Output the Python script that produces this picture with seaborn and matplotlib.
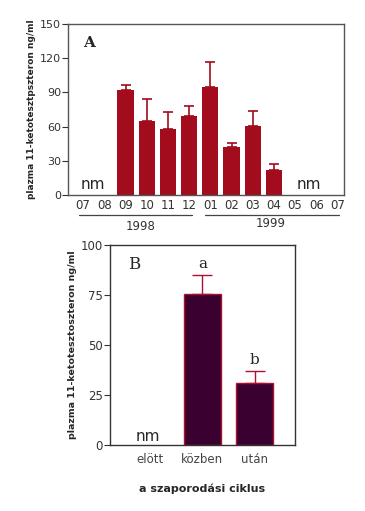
import numpy as np
import pandas as pd
import seaborn as sns
import matplotlib.pyplot as plt
import matplotlib.transforms as mtransforms

# panel A: monthly means (nm = not measured)
months = ["07", "08", "09", "10", "11", "12", "01", "02", "03", "04", "05", "06", "07"]
month_keys = ["98-07", "98-08", "98-09", "98-10", "98-11", "98-12",
              "99-01", "99-02", "99-03", "99-04", "99-05", "99-06", "99-07"]
means_a = [np.nan, np.nan, 92, 65, 58, 69, 95, 42, 61, 22, np.nan, np.nan, np.nan]
err_a = [0, 0, 5, 19, 15, 9, 22, 4, 13, 5, 0, 0, 0]
years = ["1998", "1999"]

# panel B: reproductive cycle
phases = ["elött", "közben", "után"]
means_b = [np.nan, 75.5, 31]
err_b = [0, 9.5, 6]
letters_b = ["", "a", "b"]

sns.set_style("ticks")
plt.rcParams["font.family"] = ["DejaVu Sans"]

fig = plt.figure(figsize=(3.65, 5.11), dpi=100)
ax1 = fig.add_axes([0.186, 0.618, 0.756, 0.335])
ax2 = fig.add_axes([0.301, 0.129, 0.507, 0.392])

red = "#a20c1c"
purple = "#3a0030"
grey = "#555555"

# ---- panel A
df_a = pd.DataFrame({"month": month_keys, "value": means_a})
sns.barplot(data=df_a, x="month", y="value", order=month_keys, color=red,
            saturation=1, width=0.76, linewidth=0, ax=ax1)
xa = np.arange(len(month_keys))
ya = np.array(means_a, dtype=float)
mask = ~np.isnan(ya)
# upper whisker only; the lower cap hides behind the bar
ax1.errorbar(xa[mask], ya[mask], yerr=[np.zeros(mask.sum()), np.array(err_a)[mask]],
             fmt="none", ecolor=red, elinewidth=1.2, capsize=3.5, capthick=1.2,
             zorder=0.5)
ax1.set_ylim(0, 150)
ax1.set_xlim(-0.72, 12.3)
ax1.set_yticks([0, 30, 60, 90, 120, 150])
ax1.set_xticks(xa)
ax1.set_xticklabels(months)
ax1.tick_params(axis="x", length=0, labelsize=8.5, colors="#333333", pad=3)
ax1.tick_params(axis="y", length=4, labelsize=8, colors="#333333", pad=1)
ax1.set_xlabel("")
ax1.set_ylabel("plazma 11-ketotesztpszteron ng/ml", fontsize=6.5, fontweight="bold",
               labelpad=3)
for s in ax1.spines.values():
    s.set_color(grey)
    s.set_linewidth(1.0)
ax1.text(0.055, 0.89, "A", transform=ax1.transAxes, fontsize=11, fontweight="bold",
         family="DejaVu Serif", ha="left", va="center")
ax1.text(0.45, 9, "nm", fontsize=11, ha="center", va="center")
ax1.text(10.65, 9, "nm", fontsize=11, ha="center", va="center")

trans = mtransforms.blended_transform_factory(ax1.transData, ax1.transAxes)
ax1.plot([-0.2, 5.15], [-0.118, -0.118], color="#444444", lw=0.9,
         transform=trans, clip_on=False)
ax1.plot([5.75, 12.05], [-0.118, -0.118], color="#444444", lw=0.9,
         transform=trans, clip_on=False)
ax1.text(2.7, -0.185, years[0], transform=trans, fontsize=8.5, ha="center",
         va="center", color="#333333")
ax1.text(8.85, -0.165, years[1], transform=trans, fontsize=8.5, ha="center",
         va="center", color="#333333")

# ---- panel B
df_b = pd.DataFrame({"phase": phases, "value": means_b})
sns.barplot(data=df_b, x="phase", y="value", order=phases, color=purple,
            saturation=1, width=0.7, edgecolor="#b01030", linewidth=1.0, ax=ax2)
xb = np.arange(len(phases))
yb = np.array(means_b, dtype=float)
mb = ~np.isnan(yb)
ax2.errorbar(xb[mb], yb[mb], yerr=[np.zeros(mb.sum()), np.array(err_b)[mb]],
             fmt="none", ecolor="#b01030", elinewidth=1.0, capsize=7, capthick=1.0,
             zorder=0.5)
for x, y, e, t in zip(xb, yb, err_b, letters_b):
    if t:
        ax2.text(x, y + e + 2, t, fontsize=11, family="DejaVu Serif",
                 ha="center", va="bottom")
ax2.set_ylim(0, 100)
ax2.set_xlim(-0.77, 2.77)
ax2.set_yticks([0, 25, 50, 75, 100])
ax2.tick_params(axis="x", length=0, labelsize=8.5, colors="#444444", pad=6)
ax2.tick_params(axis="y", length=4, labelsize=8.5, colors="#333333", pad=1)
ax2.set_xlabel("a szaporodási ciklus", fontsize=8, fontweight="bold", labelpad=12)
ax2.set_ylabel("plazma 11-ketotesztoszteron ng/ml", fontsize=6.8, fontweight="bold",
               labelpad=3)
for s in ax2.spines.values():
    s.set_color("#333333")
    s.set_linewidth(1.0)
ax2.text(0.13, 0.9, "B", transform=ax2.transAxes, fontsize=12,
         family="DejaVu Serif", ha="center", va="center")
ax2.text(-0.04, 4.5, "nm", fontsize=11, ha="center", va="center")

fig.savefig("out.png", dpi=100)
